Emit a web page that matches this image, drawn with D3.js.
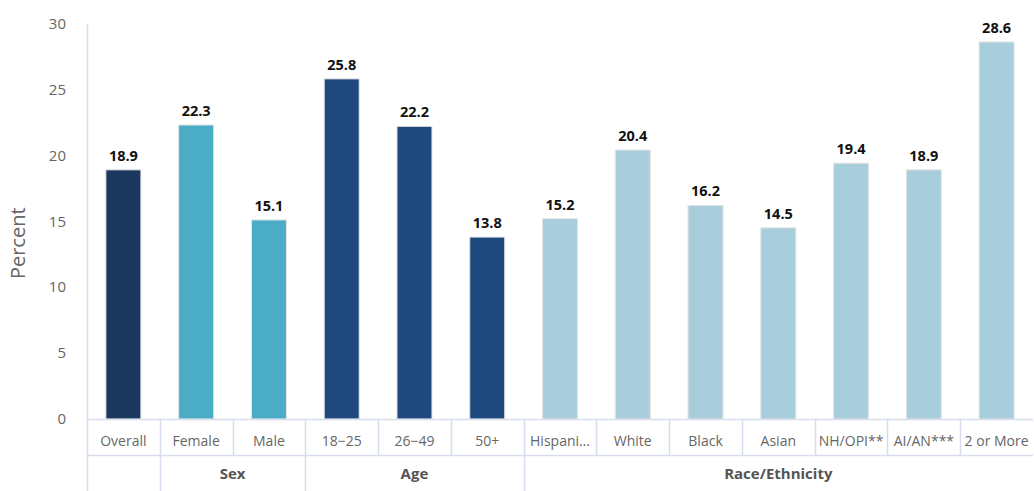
<!DOCTYPE html>
<html><head><meta charset="utf-8">
<script src="https://cdn.jsdelivr.net/npm/d3@7"></script>
<style>body{margin:0;background:#fff;} svg{display:block;font-family:"Open Sans","Noto Sans",sans-serif;}</style>
</head><body><svg id="c" width="1034" height="491"></svg>
<script>
const categories = ["Overall","Female","Male","18-25","26-49","50+","Hispanic","White","Black","Asian","NH/OPI**","AI/AN***","2 or More"];
const displayLabels = ["Overall","Female","Male","18\u221225","26\u221249","50+","Hispani\u2026","White","Black","Asian","NH/OPI**","AI/AN***","2 or More"];
const values = [18.9,22.3,15.1,25.8,22.2,13.8,15.2,20.4,16.2,14.5,19.4,18.9,28.6];
const groupOf = ["","Sex","Sex","Age","Age","Age","Race/Ethnicity","Race/Ethnicity","Race/Ethnicity","Race/Ethnicity","Race/Ethnicity","Race/Ethnicity","Race/Ethnicity"];
const groups = [{name:"",start:0,end:1},{name:"Sex",start:1,end:3},{name:"Age",start:3,end:6},{name:"Race/Ethnicity",start:6,end:13}];
const groupColors = {"":"#1b385e","Sex":"#4bacc6","Age":"#1f497d","Race/Ethnicity":"#a8cedb"};
const yTicks = [0,5,10,15,20,25,30];

const svg = d3.select("#c");
const left = 87, right = 1033, y0 = 419, yTop = 23.5;
const x = d3.scaleBand().domain(categories).range([left,right]).paddingInner(0).paddingOuter(0);
const y = d3.scaleLinear().domain([0,30]).range([y0,yTop]);
const bw = x.bandwidth();
const gridC = "#d6deee";

// y axis tick labels
svg.append("g").selectAll("text").data(yTicks).join("text")
  .attr("x",66).attr("y",d=>y(d)).attr("dy","0.35em").attr("text-anchor","end")
  .attr("fill","#666").attr("font-size",15).text(d=>d);
svg.append("text").attr("transform",`translate(25,${(y0+yTop)/2+22}) rotate(-90)`)
  .attr("text-anchor","middle").attr("fill","#666").attr("font-size",20).text("Percent");

// left axis line
svg.append("line").attr("x1",left+0.5).attr("x2",left+0.5).attr("y1",yTop).attr("y2",491)
  .attr("stroke",gridC).attr("stroke-width",1.5);

// bars
svg.append("g").selectAll("rect").data(values).join("rect")
  .attr("x",(d,i)=>x(categories[i])+bw/2-17.5).attr("width",35)
  .attr("y",d=>y(d)).attr("height",d=>y0-y(d))
  .attr("fill",(d,i)=>groupColors[groupOf[i]]).attr("stroke","#e4e4e4").attr("stroke-width",1);

// value labels
svg.append("g").selectAll("text").data(values).join("text")
  .attr("x",(d,i)=>x(categories[i])+bw/2).attr("y",d=>y(d)-9)
  .attr("text-anchor","middle").attr("font-weight","bold").attr("font-size",14.5).attr("fill","#111")
  .text(d=>d.toFixed(1));

// category axis grid
const rowMid = 455, bottom = 491;
svg.append("line").attr("x1",left).attr("x2",right).attr("y1",y0+0.5).attr("y2",y0+0.5).attr("stroke",gridC).attr("stroke-width",1.5);
svg.append("line").attr("x1",left).attr("x2",right).attr("y1",rowMid+0.5).attr("y2",rowMid+0.5).attr("stroke",gridC).attr("stroke-width",1.5);
svg.append("g").selectAll("line").data(categories.slice(1)).join("line")
  .attr("x1",d=>Math.round(x(d))+0.5).attr("x2",d=>Math.round(x(d))+0.5).attr("y1",y0).attr("y2",rowMid)
  .attr("stroke",gridC).attr("stroke-width",1.5);
svg.append("g").selectAll("line").data(groups.slice(1)).join("line")
  .attr("x1",d=>Math.round(x(categories[d.start]))+0.5).attr("x2",d=>Math.round(x(categories[d.start]))+0.5)
  .attr("y1",rowMid).attr("y2",bottom).attr("stroke",gridC).attr("stroke-width",1.5);

svg.append("g").selectAll("text").data(displayLabels).join("text")
  .attr("x",(d,i)=>x(categories[i])+bw/2).attr("y",441).attr("dy","0.35em")
  .attr("text-anchor","middle").attr("fill","#666").attr("font-size",14).text(d=>d);
svg.append("g").selectAll("text").data(groups).join("text")
  .attr("x",d=>(x(categories[d.start])+x(categories[d.end-1])+bw)/2).attr("y",474).attr("dy","0.35em")
  .attr("text-anchor","middle").attr("fill","#555").attr("font-weight","bold").attr("font-size",15).text(d=>d.name);
</script></body></html>
